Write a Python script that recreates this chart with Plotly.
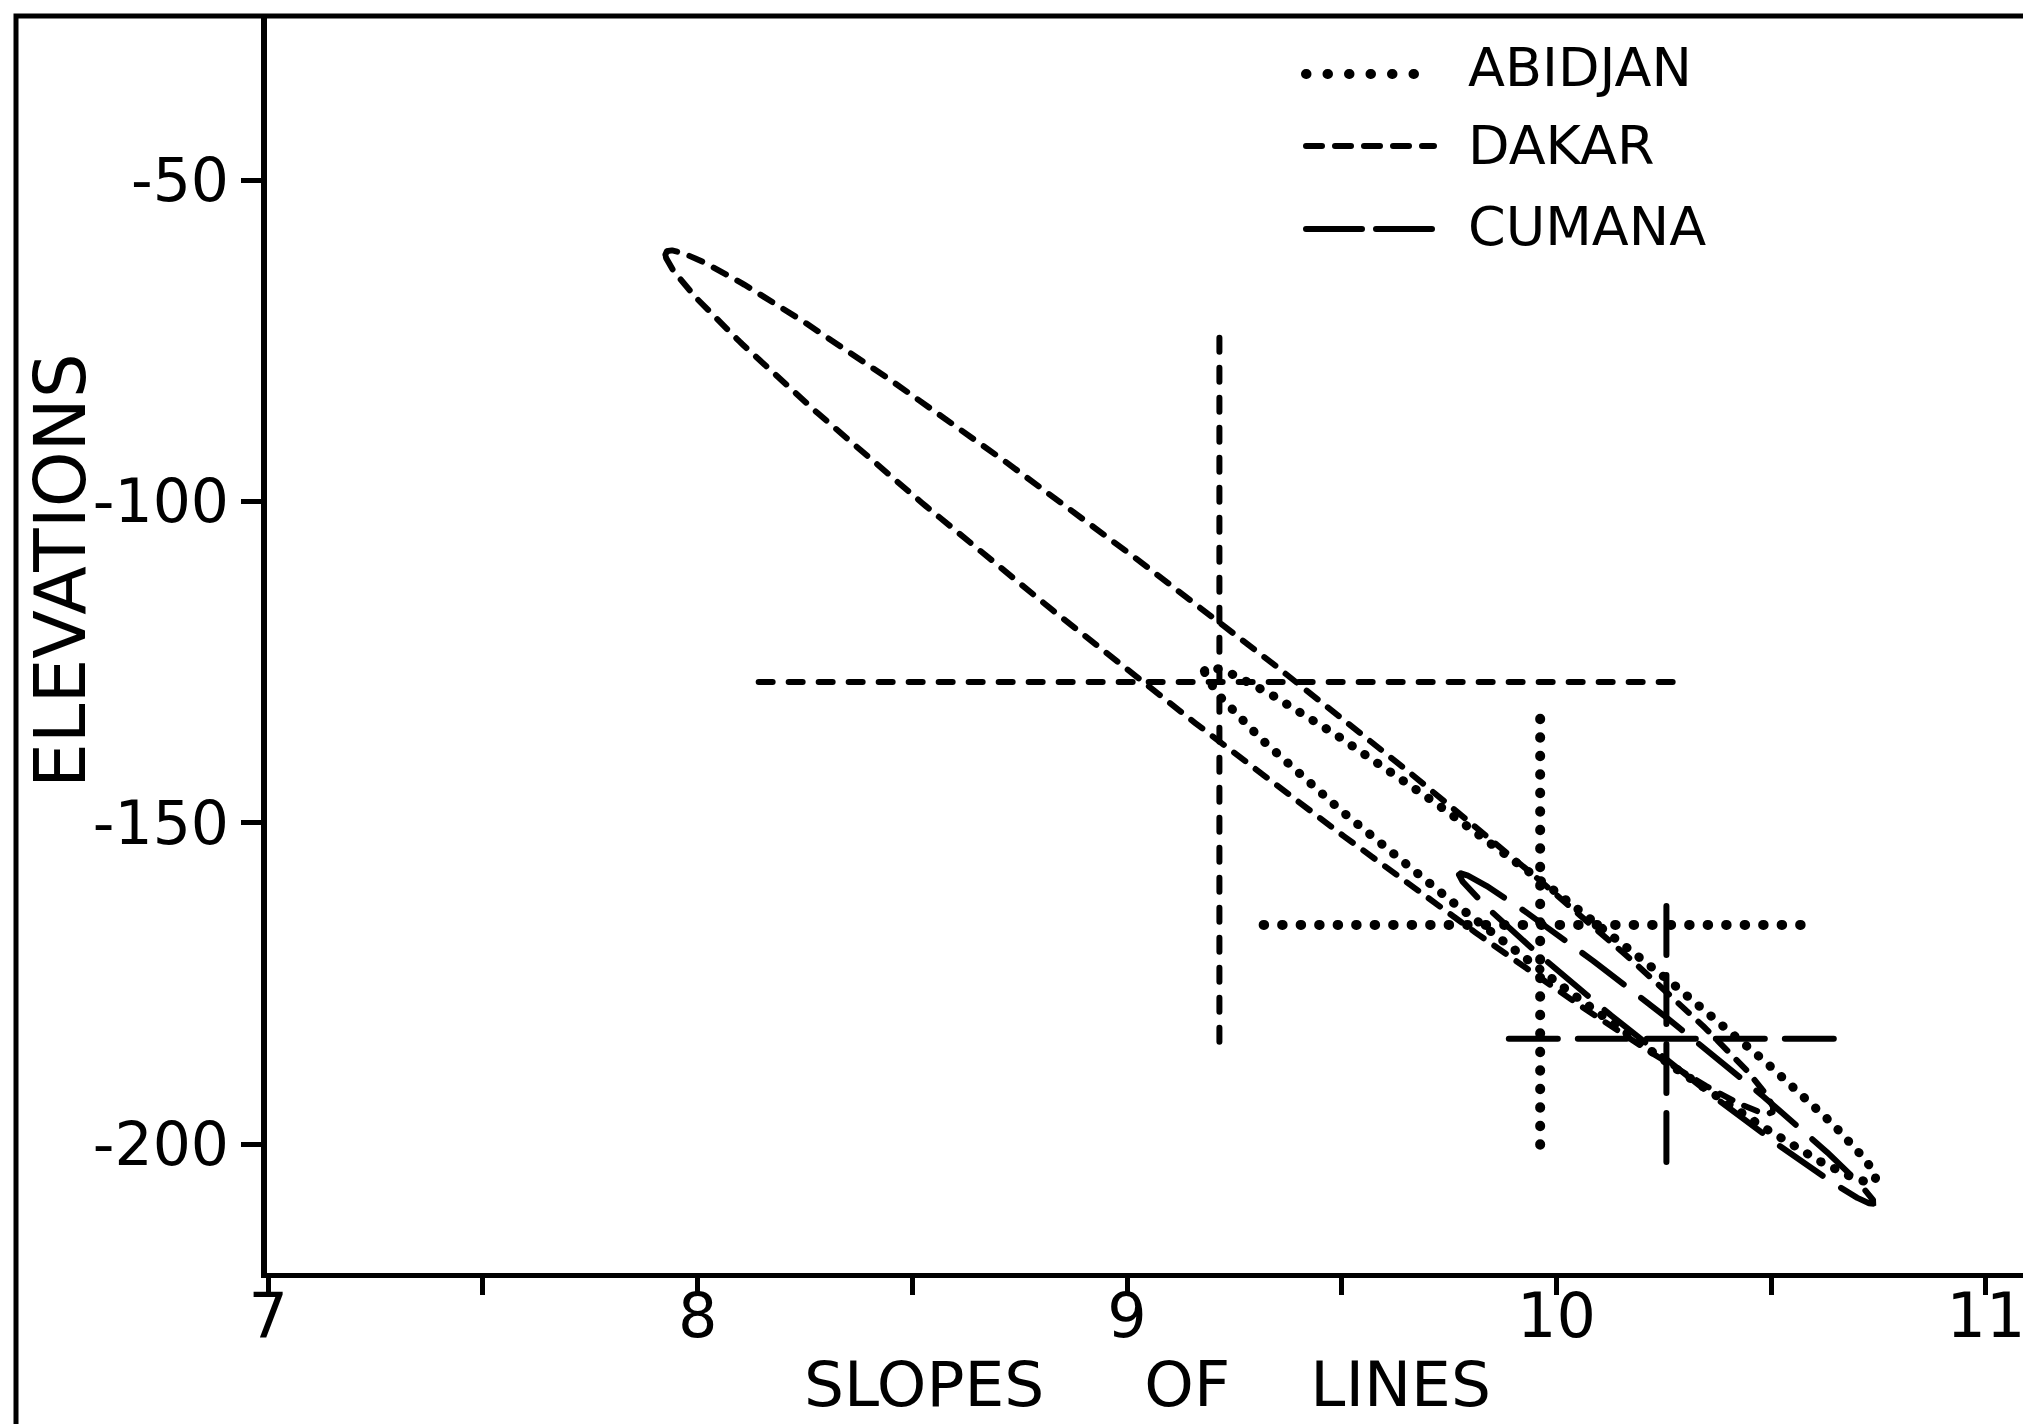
import numpy as np
import plotly.graph_objects as go

# ---------------- data ----------------
CITIES = ["ABIDJAN", "DAKAR", "CUMANA"]
# centre of each estimate (slope of lines, elevation)
CENTER_SLOPE = [9.962, 9.215, 10.256]
CENTER_ELEV = [-165.9, -128.1, -183.6]
# cross bars: slope interval (horizontal) and elevation interval (vertical)
SLOPE_LOW = [9.318, 8.142, 9.889]
SLOPE_HIGH = [10.610, 10.298, 10.657]
ELEV_LOW = [-200.1, -184.1, -202.8]
ELEV_HIGH = [-132.9, -73.7, -162.2]
# confidence ellipses: left end relative to centre, half height at centre
TIP_DSLOPE = [-0.782, -1.290, -0.483]
TIP_DELEV = [39.5, 66.5, 25.5]
HALF_HEIGHT = [7.0, 9.3, 3.3]

X_TICKS = [7, 7.5, 8, 8.5, 9, 9.5, 10, 10.5, 11]
X_TICK_TEXT = ["7", "", "8", "", "9", "", "10", "", "11"]
Y_TICKS = [-50, -100, -150, -200]
Y_TICK_TEXT = ["-50", "-100", "-150", "-200"]

X_TITLE = "SLOPES" + "\u00a0" * 5 + "OF" + "\u00a0" * 4 + "LINES"
Y_TITLE = "ELEVATIONS"

# ---------------- layout geometry / styles ----------------
W, H = 2031, 1424
ML, MR, MT, MB = 259, 4, 8, 159
PW, PH = W - ML - MR, H - MT - MB
FONT = "DejaVu Sans, Liberation Sans, sans-serif"

ELLIPSE_STYLE = {
    "ABIDJAN": dict(width=9, dash="0.5px,15px"),
    "DAKAR": dict(width=6, dash="14px,13px"),
    "CUMANA": dict(width=6, dash="52px,22px"),
}
CROSS_STYLE = {
    "ABIDJAN": dict(width=10, dash="0.5px,18px"),
    "DAKAR": dict(width=6, dash="14px,16px"),
    "CUMANA": dict(width=6, dash="49px,20px"),
}
LEG_STYLE = {
    "ABIDJAN": dict(width=10, dash="0.5px,21px"),
    "DAKAR": dict(width=6, dash="16px,13px"),
    "CUMANA": dict(width=6, dash="56px,14px"),
}


def px_x(px):
    return (px - ML) / PW


def px_y(py):
    return (H - MB - py) / PH


fig = go.Figure()

t = np.linspace(0, 2 * np.pi, 721)
for i, city in enumerate(CITIES):
    ex = CENTER_SLOPE[i] + np.cos(t) * TIP_DSLOPE[i]
    ey = CENTER_ELEV[i] + np.cos(t) * TIP_DELEV[i] + np.sin(t) * HALF_HEIGHT[i]
    fig.add_trace(go.Scatter(
        x=ex, y=ey, mode="lines", name=city,
        line=dict(color="black", **ELLIPSE_STYLE[city]),
        showlegend=False, hoverinfo="skip"))
    fig.add_trace(go.Scatter(
        x=[SLOPE_LOW[i], SLOPE_HIGH[i], None, CENTER_SLOPE[i], CENTER_SLOPE[i]],
        y=[CENTER_ELEV[i], CENTER_ELEV[i], None, ELEV_LOW[i], ELEV_HIGH[i]],
        mode="lines", name=city + " interval",
        line=dict(color="black", **CROSS_STYLE[city]),
        showlegend=False, hoverinfo="skip"))

# ---------------- hand-made legend ----------------
leg_line_y = [66, 138, 221]
leg_text_y = [60, 137, 218]
shapes = []
annotations = []
for i, city in enumerate(CITIES):
    shapes.append(dict(type="line", xref="paper", yref="paper",
                       x0=px_x(1298), x1=px_x(1426), y0=px_y(leg_line_y[i]), y1=px_y(leg_line_y[i]),
                       line=dict(color="black", **LEG_STYLE[city])))
    annotations.append(dict(text=city, xref="paper", yref="paper", x=px_x(1458), y=px_y(leg_text_y[i]),
                            xanchor="left", yanchor="middle", showarrow=False,
                            font=dict(family=FONT, size=54, color="black")))

# outer frame of the sheet
shapes.append(dict(type="rect", xref="paper", yref="paper",
                   x0=px_x(8), x1=px_x(2027), y0=px_y(1419), y1=px_y(8),
                   line=dict(color="black", width=5)))

# axis titles
annotations.append(dict(text=Y_TITLE, xref="paper", yref="paper",
                        x=px_x(53), y=px_y(563), xanchor="center", yanchor="middle",
                        textangle=-90, showarrow=False,
                        font=dict(family=FONT, size=71, color="black")))
annotations.append(dict(text=X_TITLE, xref="paper", yref="paper",
                        x=px_x(1139), y=px_y(1376), xanchor="center", yanchor="middle",
                        showarrow=False, borderpad=0,
                        font=dict(family=FONT, size=63, color="black")))

fig.update_layout(
    width=W, height=H,
    margin=dict(l=ML, r=MR, t=MT, b=MB),
    paper_bgcolor="white", plot_bgcolor="white",
    showlegend=False,
    font=dict(family=FONT, color="black"),
    shapes=shapes, annotations=annotations,
    xaxis=dict(
        range=[6.997, 6.997 + PW / 429.4],
        tickmode="array", tickvals=X_TICKS, ticktext=X_TICK_TEXT,
        ticks="outside", ticklen=17, tickwidth=5, tickcolor="black",
        ticklabelstandoff=-32,
        showline=True, linewidth=5, linecolor="black",
        showgrid=False, zeroline=False, automargin=False,
        tickfont=dict(family=FONT, size=62, color="black"),
    ),
    yaxis=dict(
        range=[-50 - (1265 - 172) / 6.427, -50 + (172 - 8) / 6.427],
        tickmode="array", tickvals=Y_TICKS, ticktext=Y_TICK_TEXT,
        ticks="outside", ticklen=20, tickwidth=5, tickcolor="black",
        showline=True, linewidth=6, linecolor="black",
        showgrid=False, zeroline=False, automargin=False,
        tickfont=dict(family=FONT, size=60, color="black"),
    ),
)

post = ("var s=document.createElement('style');"
        "s.textContent='.scatterlayer path.js-line, .shapelayer path{stroke-linecap:round;}';"
        "document.head.appendChild(s);")
fig.write_html("out.html", post_script=post)
